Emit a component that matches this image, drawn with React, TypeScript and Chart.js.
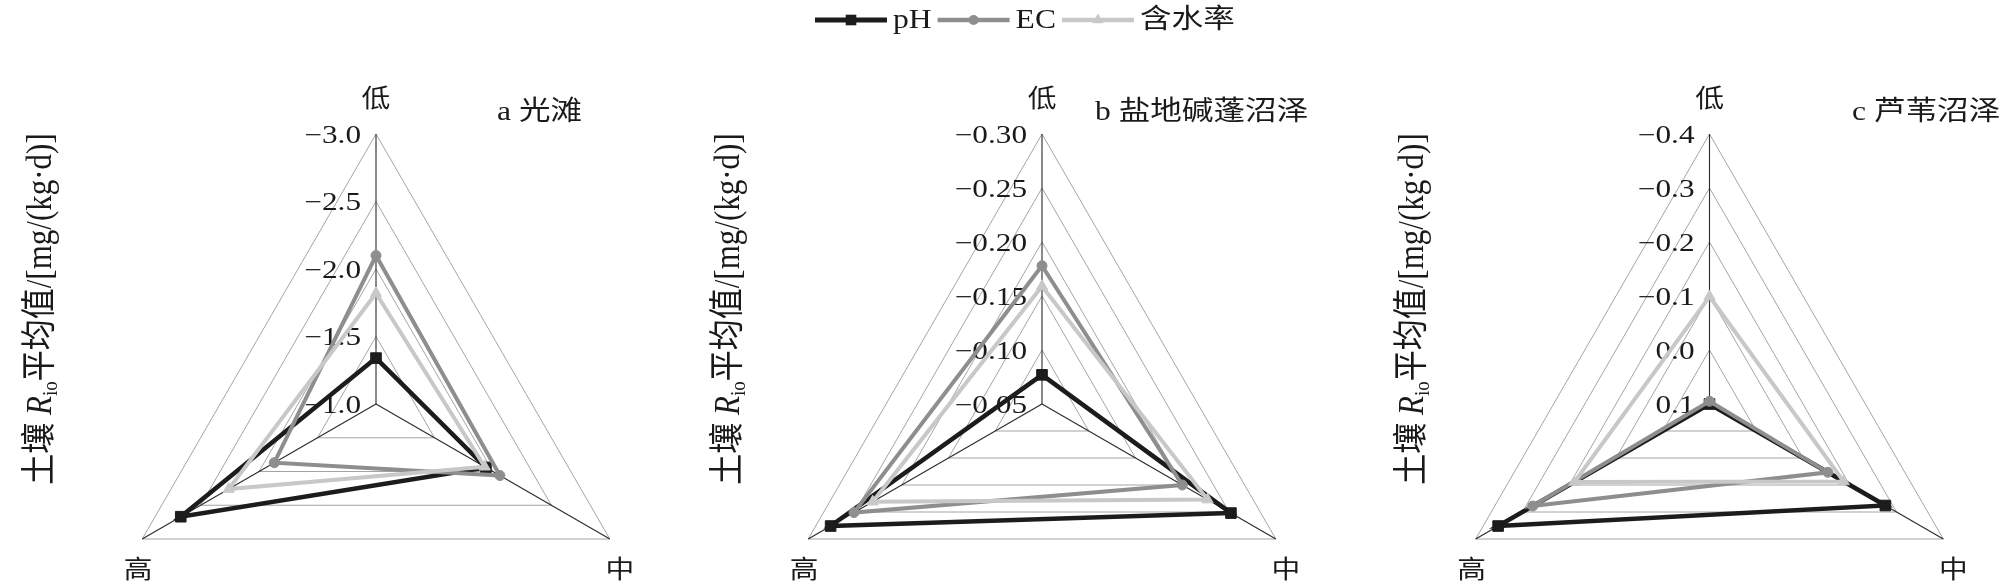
import React, { useEffect, useRef } from 'react';
import { Chart, registerables } from 'chart.js';

Chart.register(...registerables);

// ---------- data ----------
const categories = ['低', '中', '高'];
const seriesNames = ['pH', 'EC', '含水率'];

// panel a 光滩
const phA = [-1.34, -1.94, -2.67];
const ecA = [-2.1, -2.06, -1.87];
const waterA = [-1.82, -1.93, -2.26];
const ticksA = [-3.0, -2.5, -2.0, -1.5, -1.0];

// panel b 盐地碱蓬沼泽
const phB = [-0.077, -0.252, -0.276];
const ecB = [-0.178, -0.2, -0.251];
const waterB = [-0.159, -0.227, -0.231];
const ticksB = [-0.3, -0.25, -0.2, -0.15, -0.1, -0.05];

// panel c 芦苇沼泽
const phC = [0.1, -0.276, -0.352];
const ecC = [0.095, -0.153, -0.278];
const waterC = [-0.099, -0.187, -0.189];
const ticksC = [-0.4, -0.3, -0.2, -0.1, 0.0, 0.1];

const panelTitles = ['a 光滩', 'b 盐地碱蓬沼泽', 'c 芦苇沼泽'];
const yTitleParts = ['土壤 ', 'R', 'io', '平均值/[mg/(kg·d)]'];

// ---------- styles / layout ----------
const seriesStyles = [
  { color: '#1c1c1c', width: 4.5, point: 'rect', radius: 7.5, order: 2 },
  { color: '#8e8e8e', width: 4, point: 'circle', radius: 5, order: 1 },
  { color: '#c8c8c8', width: 4, point: 'triangle', radius: 6.5, order: 0 },
];

const panels = [
  { series: [phA, ecA, waterA], ticks: ticksA, dec: 1, title: panelTitles[0], cx: 376, titleX: 497, yTitleX: 42, legend: false },
  { series: [phB, ecB, waterB], ticks: ticksB, dec: 2, title: panelTitles[1], cx: 1042, titleX: 1095, yTitleX: 730, legend: true },
  { series: [phC, ecC, waterC], ticks: ticksC, dec: 1, title: panelTitles[2], cx: 1709.5, titleX: 1852, yTitleX: 1414, legend: false },
];
const CY = 404;
const RADIUS = 270;
const LATIN = '"Liberation Serif", "Noto Sans CJK SC", serif';
const CJK = '"Noto Sans CJK SC", "Liberation Serif", sans-serif';

function fmt(v: number, dec: number) {
  const s = Math.abs(v).toFixed(dec);
  return v < -1e-9 ? '\u2212' + s : s;
}

function drawStretched(ctx: CanvasRenderingContext2D, text: string, x: number, y: number, font: string, align: CanvasTextAlign, sx: number, color = '#1a1a1a') {
  ctx.save();
  ctx.font = font;
  ctx.fillStyle = color;
  ctx.textAlign = align;
  ctx.textBaseline = 'middle';
  ctx.translate(x, y);
  ctx.scale(sx, 1);
  ctx.fillText(text, 0, 0);
  ctx.restore();
}

function drawMarker(ctx: CanvasRenderingContext2D, style: string, x: number, y: number, r: number, color: string) {
  ctx.save();
  ctx.fillStyle = color;
  ctx.beginPath();
  if (style === 'rect') {
    const s = r * Math.SQRT1_2;
    ctx.rect(x - s, y - s, 2 * s, 2 * s);
  } else if (style === 'circle') {
    ctx.arc(x, y, r, 0, Math.PI * 2);
  } else {
    ctx.moveTo(x, y - r);
    ctx.lineTo(x + r * Math.sin(Math.PI * 2 / 3), y - r * Math.cos(Math.PI * 2 / 3));
    ctx.lineTo(x - r * Math.sin(Math.PI * 2 / 3), y - r * Math.cos(Math.PI * 2 / 3));
    ctx.closePath();
  }
  ctx.fill();
  ctx.restore();
}

function makeDecoPlugin(p: any) {
  return {
    id: 'panelDeco',
    beforeDatasetsDraw(chart: any) {
      const s = chart.scales.r;
      const ctx: CanvasRenderingContext2D = chart.ctx;
      ctx.save();
      // spokes
      ctx.strokeStyle = '#2a2a2a';
      ctx.lineWidth = 1.1;
      for (let i = 0; i < categories.length; i++) {
        const pt = s.getPointPosition(i, s.drawingArea);
        ctx.beginPath();
        ctx.moveTo(s.xCenter, s.yCenter);
        ctx.lineTo(pt.x, pt.y);
        ctx.stroke();
      }
      // tick labels
      s.ticks.forEach((t: any) => {
        const d = s.getDistanceFromCenterForValue(t.value);
        drawStretched(ctx, fmt(t.value, p.dec), s.xCenter - 15, s.yCenter - d + 2, `25px ${LATIN}`, 'right', 1.25);
      });
      // category labels
      const offsets = [
        { dx: 0, dy: -37 },
        { dx: 10, dy: 29 },
        { dx: -4, dy: 29 },
      ];
      categories.forEach((c, i) => {
        const pt = s.getPointPosition(i, s.drawingArea);
        drawStretched(ctx, c, pt.x + offsets[i].dx, pt.y + offsets[i].dy, `25px ${CJK}`, 'center', 1.15);
      });
      // panel title
      drawStretched(ctx, p.title, p.titleX, 113, `27px ${LATIN}`, 'left', 1.17);
      // y-axis title (rotated)
      ctx.save();
      ctx.fillStyle = '#1a1a1a';
      ctx.translate(p.yTitleX, 309);
      ctx.scale(1.15, 1);
      ctx.rotate(-Math.PI / 2);
      ctx.textBaseline = 'middle';
      ctx.textAlign = 'left';
      const fonts = [`31px ${LATIN}`, `italic 31px ${LATIN}`, `19px ${LATIN}`, `31px ${LATIN}`];
      const shifts = [0, 0, 8, 0];
      let total = 0;
      const widths = yTitleParts.map((t, i) => {
        ctx.font = fonts[i];
        const w = ctx.measureText(t).width;
        total += w;
        return w;
      });
      let x = -total / 2;
      yTitleParts.forEach((t, i) => {
        ctx.font = fonts[i];
        ctx.fillText(t, x, shifts[i]);
        x += widths[i];
      });
      ctx.restore();

      // legend
      if (p.legend) {
        let lx = 815;
        const ly = 20;
        chart.data.datasets.forEach((ds: any, i: number) => {
          const st = seriesStyles[i];
          ctx.save();
          ctx.strokeStyle = st.color;
          ctx.lineWidth = i === 0 ? 5 : 4.5;
          ctx.beginPath();
          ctx.moveTo(lx, ly);
          ctx.lineTo(lx + 72, ly);
          ctx.stroke();
          ctx.restore();
          drawMarker(ctx, st.point, lx + 36, ly, st.radius, st.color);
          lx += 78;
          ctx.save();
          ctx.font = `27px ${LATIN}`;
          const w = ctx.measureText(ds.label).width * 1.17;
          ctx.restore();
          drawStretched(ctx, ds.label, lx, ly + 1, `27px ${LATIN}`, 'left', 1.17);
          lx += w + 6;
        });
      }
      ctx.restore();
    },
  };
}

function Panel({ p }: { p: any }) {
  const ref = useRef<HTMLCanvasElement>(null);
  useEffect(() => {
    const tickVals: number[] = p.ticks;
    const chart = new Chart(ref.current as HTMLCanvasElement, {
      type: 'radar',
      data: {
        labels: categories,
        datasets: p.series.map((vals: number[], i: number) => ({
          label: seriesNames[i],
          data: vals,
          borderColor: seriesStyles[i].color,
          backgroundColor: seriesStyles[i].color,
          borderWidth: seriesStyles[i].width,
          pointStyle: seriesStyles[i].point,
          pointRadius: seriesStyles[i].radius,
          pointBorderWidth: 1,
          pointBackgroundColor: seriesStyles[i].color,
          pointBorderColor: seriesStyles[i].color,
          fill: false,
          tension: 0,
          order: seriesStyles[i].order,
        })),
      },
      options: {
        animation: false,
        responsive: false,
        maintainAspectRatio: false,
        events: [],
        layout: { padding: 0 },
        plugins: {
          legend: { display: false },
          tooltip: { enabled: false },
          title: { display: false },
        },
        scales: {
          r: {
            min: Math.min(...tickVals),
            max: Math.max(...tickVals),
            reverse: true,
            afterSetDimensions: (s: any) => {
              s.xCenter = p.cx;
              s.yCenter = CY;
              s.drawingArea = RADIUS;
            },
            afterBuildTicks: (s: any) => {
              s.ticks = tickVals.map((v) => ({ value: v }));
            },
            ticks: { display: false },
            pointLabels: { display: false },
            angleLines: { display: false },
            grid: { color: '#a4a4a4', lineWidth: 1, circular: false },
          },
        },
      } as any,
      plugins: [makeDecoPlugin(p)],
    });
    return () => chart.destroy();
  }, []);
  return (
    <canvas
      ref={ref}
      width={2000}
      height={585}
      style={{ position: 'absolute', left: 0, top: 0, width: 2000, height: 585 }}
    />
  );
}

export default function App() {
  return (
    <div style={{ position: 'absolute', left: 0, top: 0, width: 2000, height: 585, background: '#ffffff', overflow: 'hidden' }}>
      {panels.map((p, i) => (
        <Panel key={i} p={p} />
      ))}
    </div>
  );
}
